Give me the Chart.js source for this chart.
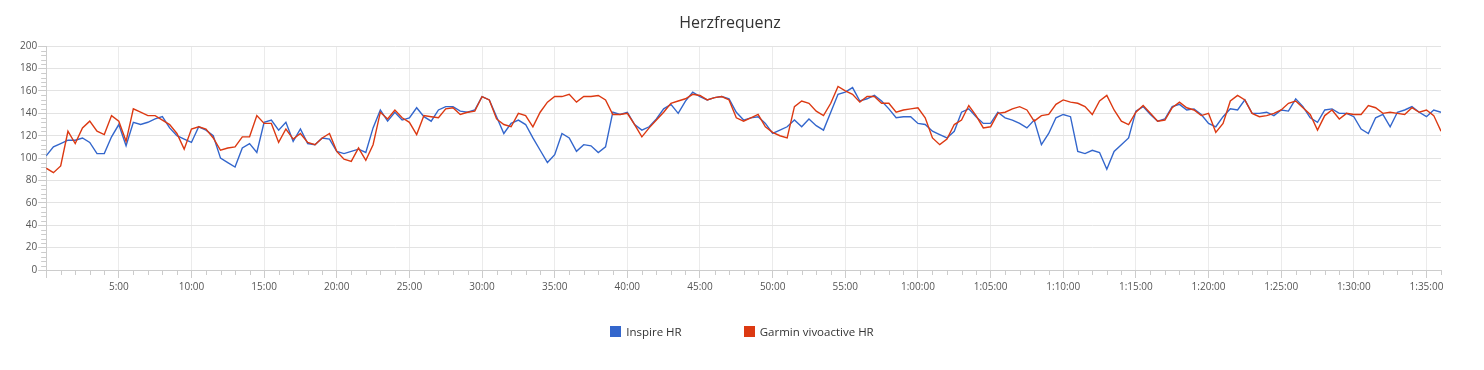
<!DOCTYPE html>
<html>
<head>
<meta charset="utf-8">
<title>Herzfrequenz</title>
<script src="https://cdn.jsdelivr.net/npm/chart.js@4.4.1/dist/chart.umd.min.js"></script>
<style>
    html, body { margin: 0; padding: 0; background: #fff; }
    #wrap { position: relative; width: 1484px; height: 370px; }
    #legend {
        position: absolute; left: 0; top: 324px; width: 1484px;
        display: flex; justify-content: center; gap: 62px;
        font: 11.5px 'Open Sans', sans-serif; color: #333;
    }
    .legend-item { display: flex; align-items: center; }
    .legend-box { width: 11px; height: 11px; margin-right: 5px; }
</style>
</head>
<body>
<div id="wrap">
    <canvas id="hrChart"></canvas>
    <div id="legend"></div>
</div>
<script>
// ==========================
// DATA
// ==========================

const chartTitle  = 'Herzfrequenz';
const seriesNames = ['Inspire HR', 'Garmin vivoactive HR'];
const seriesColors = ['#3366cc', '#dc3912'];

// one sample every half minute, 0:00 .. 1:36:00
const sampleStepMin = 0.5;

// each row = 5 minutes
const inspireHr = [
    102, 110, 113, 116, 116, 118, 114, 104, 104, 119,
    130, 111, 132, 130, 132, 135, 137, 127, 120, 117,
    114, 128, 125, 120, 100, 96, 92, 109, 113, 105,
    132, 134, 125, 132, 115, 126, 113, 112, 118, 117,
    106, 104, 106, 108, 105, 127, 143, 133, 141, 134,
    136, 145, 137, 133, 143, 146, 146, 142, 141, 143,
    155, 152, 137, 122, 131, 134, 130, 118, 107, 96,
    103, 122, 118, 106, 112, 111, 105, 110, 141, 139,
    141, 130, 125, 128, 135, 144, 148, 140, 151, 159,
    155, 152, 154, 155, 153, 141, 134, 136, 137, 131,
    122, 125, 128, 134, 128, 135, 129, 125, 141, 157,
    159, 163, 151, 153, 156, 151, 144, 136, 137, 137,
    131, 130, 124, 121, 118, 124, 141, 144, 137, 131,
    131, 141, 136, 134, 131, 127, 134, 112, 122, 136,
    139, 137, 106, 104, 107, 105, 90, 106, 112, 118,
    142, 146, 139, 133, 135, 146, 148, 143, 144, 139,
    131, 128, 137, 144, 143, 152, 140, 140, 141, 138,
    143, 142, 153, 146, 136, 132, 143, 144, 140, 140,
    137, 126, 122, 136, 139, 128, 141, 143, 146, 141,
    137, 143, 141
];

const garminHr = [
    91, 87, 93, 124, 113, 127, 133, 124, 121, 138,
    133, 115, 144, 141, 138, 138, 134, 130, 122, 108,
    126, 128, 126, 118, 107, 109, 110, 119, 119, 138,
    131, 131, 114, 126, 117, 122, 114, 112, 118, 122,
    106, 99, 97, 109, 98, 112, 141, 135, 143, 136,
    132, 121, 138, 137, 136, 144, 145, 139, 141, 142,
    155, 152, 135, 130, 128, 140, 138, 128, 141, 150,
    155, 155, 157, 150, 155, 155, 156, 152, 139, 139,
    140, 130, 119, 127, 134, 141, 149, 151, 153, 157,
    156, 152, 154, 155, 152, 136, 133, 136, 139, 128,
    123, 120, 118, 146, 151, 149, 142, 138, 149, 164,
    160, 157, 150, 155, 155, 149, 149, 141, 143, 144,
    145, 136, 118, 112, 117, 130, 134, 147, 138, 127,
    128, 140, 141, 144, 146, 143, 133, 138, 139, 148,
    152, 150, 149, 146, 139, 151, 156, 143, 133, 130,
    141, 147, 140, 133, 134, 145, 150, 145, 143, 138,
    140, 123, 131, 151, 156, 152, 140, 137, 138, 140,
    143, 149, 151, 145, 139, 125, 138, 143, 135, 140,
    139, 139, 147, 145, 140, 141, 140, 139, 145, 141,
    143, 138, 124
];

// ==========================
// HELPERS
// ==========================

function toPoints(values) {
    return values.map((v, i) => ({ x: i * sampleStepMin, y: v }));
}

function formatMinutes(min) {
    if (min < 60) return min + ':00';
    const h = Math.floor(min / 60);
    const m = String(min % 60).padStart(2, '0');
    return h + ':' + m + ':00';
}

// short ticks between the labelled ones
const minorTicks = {
    id: 'minorTicks',
    afterDraw(chart) {
        const { ctx, chartArea, scales } = chart;
        ctx.save();
        ctx.strokeStyle = '#cccccc';
        ctx.lineWidth = 1;
        ctx.beginPath();

        scales.x.ticks.forEach(t => {
            if (t.value % 5 === 0) return;
            const px = Math.round(scales.x.getPixelForValue(t.value)) + 0.5;
            ctx.moveTo(px, chartArea.bottom);
            ctx.lineTo(px, chartArea.bottom + 5);
        });

        scales.y.ticks.forEach(t => {
            if (t.value % 20 === 0) return;
            const py = Math.round(scales.y.getPixelForValue(t.value)) + 0.5;
            ctx.moveTo(chartArea.left - 5, py);
            ctx.lineTo(chartArea.left, py);
        });

        ctx.stroke();
        ctx.restore();
    }
};

// ==========================
// CHART
// ==========================

Chart.defaults.font.family = "'Open Sans', sans-serif";

const chart = new Chart(document.getElementById('hrChart'), {
    type: 'line',
    data: {
        datasets: [
            {
                label: seriesNames[0],
                data: toPoints(inspireHr),
                borderColor: seriesColors[0],
                backgroundColor: seriesColors[0],
                borderWidth: 1.4,
                pointRadius: 0,
                tension: 0,
                order: 1
            },
            {
                label: seriesNames[1],
                data: toPoints(garminHr),
                borderColor: seriesColors[1],
                backgroundColor: seriesColors[1],
                borderWidth: 1.4,
                pointRadius: 0,
                tension: 0,
                order: 0
            }
        ]
    },
    options: {
        responsive: true,
        maintainAspectRatio: false,
        animation: false,
        events: [],
        layout: {
            padding: { left: 19, right: 43, top: 0, bottom: 74 }
        },
        plugins: {
            legend: { display: false },
            tooltip: { enabled: false },
            title: {
                display: true,
                text: chartTitle,
                color: '#333',
                font: { size: 16, weight: 'normal' },
                padding: { top: 14, bottom: 13 }
            }
        },
        scales: {
            x: {
                type: 'linear',
                min: 0,
                max: 96,
                border: { color: '#cccccc' },
                grid: {
                    color: c => (c.tick && c.tick.value % 5 === 0) ? '#ebebeb' : 'transparent',
                    tickColor: c => (c.tick && c.tick.value % 5 === 0) ? '#cccccc' : 'transparent',
                    tickLength: 8
                },
                ticks: {
                    stepSize: 1,
                    autoSkip: false,
                    maxRotation: 0,
                    padding: 3,
                    color: '#555',
                    font: { size: 10 },
                    callback: v => (v > 0 && v % 5 === 0) ? formatMinutes(v) : ''
                }
            },
            y: {
                min: 0,
                max: 200,
                border: { color: '#cccccc' },
                grid: {
                    color: c => (c.tick && c.tick.value % 20 === 0) ? '#e3e3e3' : 'transparent',
                    tickColor: c => (c.tick && c.tick.value % 20 === 0) ? '#cccccc' : 'transparent',
                    tickLength: 8
                },
                ticks: {
                    stepSize: 4,
                    autoSkip: false,
                    padding: 1,
                    color: '#555',
                    font: { size: 10 },
                    callback: v => (v % 20 === 0) ? v : ''
                }
            }
        }
    },
    plugins: [minorTicks]
});

// ==========================
// LEGEND
// ==========================

const legendEl = document.getElementById('legend');

chart.data.datasets.forEach(ds => {
    const item = document.createElement('div');
    item.className = 'legend-item';

    const box = document.createElement('span');
    box.className = 'legend-box';
    box.style.background = ds.borderColor;

    const label = document.createElement('span');
    label.textContent = ds.label;

    item.appendChild(box);
    item.appendChild(label);
    legendEl.appendChild(item);
});
</script>
</body>
</html>
